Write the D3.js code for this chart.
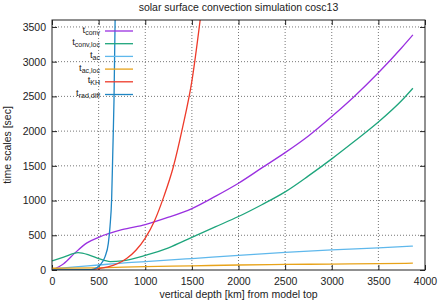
<!DOCTYPE html>
<html>
<head>
<meta charset="utf-8">
<script src="https://cdn.jsdelivr.net/npm/d3@7"></script>
<style>
  body { margin: 0; background: #fff; }
  svg { font-family: "Liberation Sans", Arial, sans-serif; }
</style>
</head>
<body>
<div id="chart"></div>
<script>
// depth [km] vs time scale [sec]
const tConv = [[0,0],[125,90],[250,250],[375,390],[500,470],[750,580],[1000,655],[1250,760],[1500,885],[1750,1060],[2000,1250],[2250,1470],[2500,1690],[2750,1930],[3000,2210],[3250,2510],[3500,2840],[3750,3200],[3870,3385]];
const tConvLoc = [[0,130],[125,185],[280,250],[400,215],[500,165],[625,122],[750,132],[1000,210],[1250,320],[1500,470],[1750,620],[2000,770],[2250,940],[2500,1125],[2750,1355],[3000,1600],[3250,1860],[3500,2130],[3750,2440],[3870,2617]];
const tAc = [[0,15],[250,45],[500,72],[750,100],[1000,120],[1500,165],[2000,212],[2500,255],[3000,290],[3500,320],[3870,345]];
const tAcLoc = [[0,25],[500,32],[1000,50],[1500,60],[2000,72],[2500,80],[3000,85],[3500,92],[3870,98]];
const tKH = [[0,0],[350,2],[500,20],[600,45],[700,90],[800,165],[900,285],[1000,460],[1100,710],[1200,1060],[1300,1480],[1400,2050],[1500,2720],[1600,3720]];
const tRadDiff = [[0,0],[400,4],[443,10],[515,72],[569,192],[604,384],[622,624],[640,1040],[652,1700],[665,2450],[678,3720]];

const seriesNames = ["conv", "conv,loc", "ac", "ac,loc", "KH", "rad,diff"];
const seriesData = [tConv, tConvLoc, tAc, tAcLoc, tKH, tRadDiff];
const seriesColors = ["#9a30e0", "#1ea57c", "#5fb8ec", "#e8a31a", "#ee3a2a", "#1f86c4"];

const xTicks = [0, 500, 1000, 1500, 2000, 2500, 3000, 3500, 4000];
const yTicks = [0, 500, 1000, 1500, 2000, 2500, 3000, 3500];

const W = 439, H = 302;
const margin = {top: 20, right: 14, bottom: 32, left: 52};
const w = W - margin.left - margin.right;
const h = H - margin.top - margin.bottom;

const svg = d3.select("#chart").append("svg")
  .attr("width", W)
  .attr("height", H);

const g = svg.append("g")
  .attr("transform", `translate(${margin.left},${margin.top})`);

const x = d3.scaleLinear().domain([0, 4000]).range([0, w]);
const y = d3.scaleLinear().domain([0, 3600]).range([h, 0]);

// grid (dotted)
g.append("g").selectAll("line")
  .data(xTicks.slice(1, -1))
  .enter().append("line")
  .attr("x1", d => x(d)).attr("x2", d => x(d))
  .attr("y1", 0).attr("y2", h)
  .attr("stroke", "#777").attr("stroke-width", 1)
  .attr("stroke-dasharray", "1,2");

g.append("g").selectAll("line")
  .data(yTicks.slice(1))
  .enter().append("line")
  .attr("x1", 0).attr("x2", w)
  .attr("y1", d => y(d)).attr("y2", d => y(d))
  .attr("stroke", "#777").attr("stroke-width", 1)
  .attr("stroke-dasharray", "1,2");

// axes (ticks inward, mirrored)
const tick = 5;
const fmt = d3.format("d");
const xb = g.append("g").attr("transform", `translate(0,${h})`)
  .call(d3.axisBottom(x).tickValues(xTicks).tickSizeInner(-tick).tickSizeOuter(0).tickPadding(8).tickFormat(fmt));
const xt = g.append("g")
  .call(d3.axisTop(x).tickValues(xTicks).tickSizeInner(-tick).tickSizeOuter(0).tickFormat(""));
const yl = g.append("g")
  .call(d3.axisLeft(y).tickValues(yTicks).tickSizeInner(-tick).tickSizeOuter(0).tickPadding(6).tickFormat(fmt));
const yr = g.append("g").attr("transform", `translate(${w},0)`)
  .call(d3.axisRight(y).tickValues(yTicks).tickSizeInner(-tick).tickSizeOuter(0).tickFormat(""));

[xb, xt, yl, yr].forEach(a => {
  a.select(".domain").remove();
  a.selectAll("text").attr("font-size", "10.5px").attr("fill", "#222").attr("font-family", "Liberation Sans, Arial, sans-serif");
  a.selectAll("line").attr("stroke", "#222");
});

// clip
g.append("clipPath").attr("id", "plot-clip")
  .append("rect").attr("width", w).attr("height", h);

const line = d3.line()
  .x(d => x(d[0]))
  .y(d => y(d[1]))
  .curve(d3.curveMonotoneX);

const curves = g.append("g").attr("clip-path", "url(#plot-clip)");

// legend
const leg = g.append("g");
seriesNames.forEach((name, i) => {
  const ly = 11 + i * 12.7;
  const t = leg.append("text")
    .attr("x", 48)
    .attr("y", ly + 1.5)
    .attr("text-anchor", "end")
    .attr("font-size", "9.5px")
    .attr("fill", "#222");
  t.append("tspan").text("t");
  t.append("tspan").attr("font-size", "7px").attr("dy", 2).text(name);
  leg.append("line")
    .attr("x1", 53).attr("x2", 81)
    .attr("y1", ly).attr("y2", ly)
    .attr("stroke", seriesColors[i])
    .attr("stroke-width", 1.3);
});

seriesData.forEach((s, i) => {
  curves.append("path")
    .datum(s)
    .attr("fill", "none")
    .attr("stroke", seriesColors[i])
    .attr("stroke-width", 1.3)
    .attr("d", line);
});

// border
g.append("rect")
  .attr("width", w).attr("height", h)
  .attr("fill", "none").attr("stroke", "#222").attr("stroke-width", 1);

// titles
svg.append("text")
  .attr("x", margin.left + w / 2)
  .attr("y", 11)
  .attr("text-anchor", "middle")
  .attr("font-size", "10.5px")
  .attr("fill", "#222")
  .text("solar surface convection simulation cosc13");

svg.append("text")
  .attr("x", margin.left + w / 2)
  .attr("y", 298)
  .attr("text-anchor", "middle")
  .attr("font-size", "10.5px")
  .attr("fill", "#222")
  .text("vertical depth [km] from model top");

svg.append("text")
  .attr("transform", `translate(11,${margin.top + h / 2}) rotate(-90)`)
  .attr("text-anchor", "middle")
  .attr("font-size", "10.5px")
  .attr("fill", "#222")
  .text("time scales [sec]");
</script>
</body>
</html>
